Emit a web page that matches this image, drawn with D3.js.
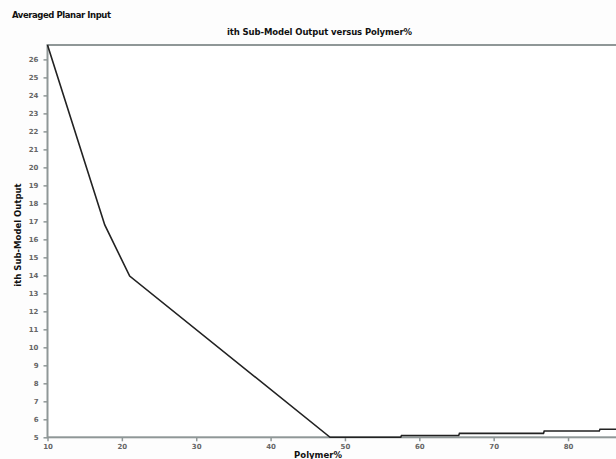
<!DOCTYPE html>
<html>
<head>
<meta charset="utf-8">
<script src="https://cdn.jsdelivr.net/npm/d3@7"></script>
<style>
    body { margin: 0; background: #ffffff; }
    text { font-family: "DejaVu Sans", Verdana, sans-serif; }
</style>
</head>
<body>
<div id="chart"></div>
<script>
// values
const polymer = [10, 17.7, 21.05, 48, 57.5, 57.6, 65.3, 65.4, 76.7, 76.8, 84.2, 84.3, 86.5];
const output  = [26.8, 16.8, 13.96, 5, 5, 5.1, 5.1, 5.22, 5.22, 5.35, 5.35, 5.45, 5.45];
const xTicks = [10, 20, 30, 40, 50, 60, 70, 80];
const yTicks = d3.range(5, 27);

const width = 616;
const height = 459;
const plotLeft = 47.5, plotTop = 45, plotBottom = 437.3, plotRight = 616;

const svg = d3.select("#chart").append("svg")
    .attr("width", width)
    .attr("height", height);

svg.append("rect").attr("width", width).attr("height", height).attr("fill", "#fdfdfd");

let xScale = d3.scaleLinear().domain([10, 86.45]).range([plotLeft, plotRight]);
let yScale = d3.scaleLinear().domain([5, 26.8]).range([plotBottom, plotTop]);

// plot frame
svg.append("rect")
    .attr("x", plotLeft)
    .attr("y", plotTop)
    .attr("width", plotRight - plotLeft + 5)
    .attr("height", plotBottom - plotTop)
    .attr("fill", "#ffffff")
    .attr("stroke", "#8f9797")
    .attr("stroke-width", 2);

let xAxis = d3.axisBottom(xScale).tickValues(xTicks).tickSize(4).tickPadding(3)
    .tickFormat(d3.format("d"));
let gx = svg.append("g")
    .attr("transform", "translate(0," + plotBottom + ")")
    .call(xAxis);

let yAxis = d3.axisLeft(yScale).tickValues(yTicks).tickSize(4).tickPadding(5)
    .tickFormat(d3.format("d"));
let gy = svg.append("g")
    .attr("transform", "translate(" + plotLeft + ",0)")
    .call(yAxis);

[gx, gy].forEach(g => {
    g.select(".domain").remove();
    g.selectAll(".tick line").attr("stroke", "#8f9797").attr("stroke-width", 1.5);
    g.selectAll(".tick text")
        .attr("fill", "#666")
        .style("font-size", "7px")
        .style("font-weight", "bold");
});

let points = polymer.map((p, i) => [p, output[i]]);
let line = d3.line().x(d => xScale(d[0])).y(d => yScale(d[1]));

svg.append("path")
    .datum(points)
    .attr("fill", "none")
    .attr("stroke", "#222")
    .attr("stroke-width", 1.6)
    .attr("d", line);

svg.append("text")
    .attr("x", 12)
    .attr("y", 18)
    .attr("textLength", 99)
    .style("font-size", "8.5px")
    .style("font-weight", "bold")
    .attr("fill", "#111")
    .text("Averaged Planar Input");

svg.append("text")
    .attr("x", 319.5)
    .attr("y", 34.5)
    .attr("text-anchor", "middle")
    .attr("textLength", 185)
    .style("font-size", "8.5px")
    .style("font-weight", "bold")
    .attr("fill", "#111")
    .text("ith Sub-Model Output versus Polymer%");

svg.append("text")
    .attr("transform", "rotate(-90)")
    .attr("x", -235)
    .attr("y", 21)
    .attr("text-anchor", "middle")
    .style("font-size", "8.5px")
    .style("font-weight", "bold")
    .attr("fill", "#111")
    .text("ith Sub-Model Output");

svg.append("text")
    .attr("x", 318)
    .attr("y", 458)
    .attr("text-anchor", "middle")
    .style("font-size", "8.5px")
    .style("font-weight", "bold")
    .attr("fill", "#111")
    .text("Polymer%");
</script>
</body>
</html>
